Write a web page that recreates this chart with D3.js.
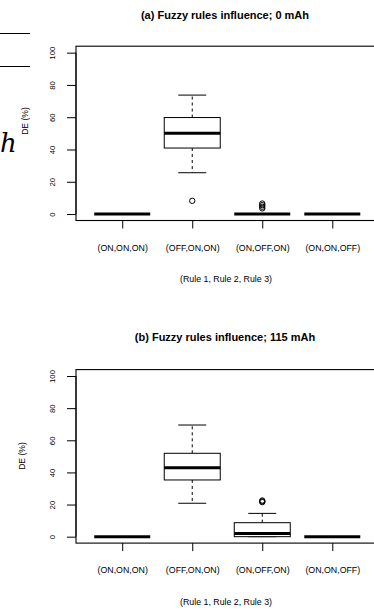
<!DOCTYPE html>
<html>
<head>
<meta charset="utf-8">
<script src="https://cdn.jsdelivr.net/npm/d3@7"></script>
<style>
  body { margin: 0; background: #fff; }
  svg { display: block; font-family: "Liberation Sans", Arial, sans-serif; }
</style>
</head>
<body>
<div id="viz"></div>
<script>
// categories on the x axis (Rule 1, Rule 2, Rule 3)
const categories = ["(ON,ON,ON)", "(OFF,ON,ON)", "(ON,OFF,ON)", "(ON,ON,OFF)"];
const yTicks = [0, 20, 40, 60, 80, 100];

// box stats per category: [lower whisker, Q1, median, Q3, upper whisker]
const statsA = [[0, 0, 0, 0, 0], [25.6, 40.9, 50, 59.8, 73.7], [0, 0, 0, 0, 0], [0, 0, 0, 0, 0]];
const outliersA = [[], [8.2], [3.5, 4.5, 5.5, 6.5], []];

const statsB = [[0, 0, 0, 0, 0], [20.8, 35.3, 42.9, 51.9, 69.5], [0, 0, 1.9, 8.7, 14.5], [0, 0, 0, 0, 0]];
const outliersB = [[], [], [21.5, 22, 22.5], []];

const W = 374, H = 610;

let svg = d3.select("#viz")
    .append("svg")
    .attr("width", W)
    .attr("height", H);

// leftover bits of the neighbouring figure (cropped)
svg.append("line").attr("x1", 0).attr("x2", 30).attr("y1", 33.5).attr("y2", 33.5)
    .attr("stroke", "#000").attr("stroke-width", 1);
svg.append("line").attr("x1", 0).attr("x2", 30).attr("y1", 66.5).attr("y2", 66.5)
    .attr("stroke", "#000").attr("stroke-width", 1);
svg.append("text").attr("x", 0).attr("y", 152)
    .style("font-family", "'DejaVu Serif', serif")
    .style("font-style", "italic")
    .style("font-size", "26px")
    .text("h");

function make_box(p) {
    let x = d3.scaleLinear().domain([0.34, 4.66]).range([76, 378.5]);
    let y = d3.scaleLinear().domain([-4, 104]).range([p.bottom, p.top]);
    let g = svg.append("g");

    // title
    g.append("text")
        .attr("x", 225).attr("y", p.titleY)
        .attr("text-anchor", "middle")
        .style("font-weight", "bold")
        .style("font-size", "11px")
        .text(p.title);

    // frame
    g.append("rect")
        .attr("x", x(0.34)).attr("y", p.top)
        .attr("width", x(4.66) - x(0.34)).attr("height", p.bottom - p.top)
        .attr("fill", "none").attr("stroke", "#000").attr("stroke-width", 1.1);

    // y axis
    let ya = g.append("g")
        .attr("transform", "translate(" + x(0.34) + ",0)")
        .call(d3.axisLeft(y).tickValues(yTicks).tickSize(9).tickSizeOuter(0));
    ya.select(".domain").attr("d", "M0," + y(0) + "V" + y(100));
    ya.selectAll("text").remove();
    ya.selectAll(".tick").append("text")
        .attr("transform", "translate(-24,0) rotate(-90)")
        .attr("text-anchor", "middle")
        .attr("dy", "0.35em")
        .attr("fill", "#000")
        .style("font-size", "7.8px")
        .style("font-family", "'Liberation Sans', Arial, sans-serif")
        .text(d => d);

    // x axis
    let xa = g.append("g")
        .attr("transform", "translate(0," + p.bottom + ")")
        .call(d3.axisBottom(x).tickValues([1, 2, 3, 4]).tickSize(8).tickSizeOuter(0));
    xa.select(".domain").remove();
    xa.selectAll("text").remove();
    xa.selectAll(".tick").append("text")
        .attr("y", 30)
        .attr("text-anchor", "middle")
        .attr("fill", "#000")
        .style("font-size", "8.8px")
        .style("font-family", "'Liberation Sans', Arial, sans-serif")
        .text((d, i) => categories[i]);

    // axis titles
    g.append("text")
        .attr("x", 226).attr("y", p.bottom + 61.5)
        .attr("text-anchor", "middle")
        .style("font-size", "8.8px")
        .text("(Rule 1, Rule 2, Rule 3)");
    g.append("text")
        .attr("transform", "translate(" + p.labX + "," + p.labY + ") rotate(-90)")
        .attr("text-anchor", "middle")
        .attr("dy", "0.35em")
        .style("font-size", "8.6px")
        .text("DE (%)");

    let bw = 56, sw = 28;
    let boxes = g.selectAll(".bx")
        .data(p.stats)
        .enter()
        .append("g")
        .attr("transform", (d, i) => "translate(" + x(i + 1) + ",0)");

    // whiskers
    boxes.append("line")
        .attr("y1", d => y(d[3])).attr("y2", d => y(d[4]))
        .attr("stroke", "#000").attr("stroke-dasharray", "3,3");
    boxes.append("line")
        .attr("y1", d => y(d[1])).attr("y2", d => y(d[0]))
        .attr("stroke", "#000").attr("stroke-dasharray", "3,3");
    // staples
    boxes.selectAll(".st")
        .data(d => [d[0], d[4]])
        .enter()
        .append("line")
        .attr("x1", -sw / 2).attr("x2", sw / 2)
        .attr("y1", v => y(v)).attr("y2", v => y(v))
        .attr("stroke", "#000");
    // box
    boxes.append("rect")
        .attr("x", -bw / 2).attr("width", bw)
        .attr("y", d => y(d[3])).attr("height", d => y(d[1]) - y(d[3]))
        .attr("fill", "#fff").attr("stroke", "#000");
    // median
    boxes.append("line")
        .attr("x1", -bw / 2).attr("x2", bw / 2)
        .attr("y1", d => y(d[2])).attr("y2", d => y(d[2]))
        .attr("stroke", "#000").attr("stroke-width", 3);

    // outliers
    boxes.each(function (d, i) {
        d3.select(this).selectAll(".out")
            .data(p.outliers[i])
            .enter()
            .append("circle")
            .attr("cy", v => y(v))
            .attr("r", 2.7)
            .attr("fill", "none")
            .attr("stroke", "#000")
            .attr("stroke-width", 1);
    });
}

make_box({title: "(a) Fuzzy rules influence; 0 mAh", titleY: 19, top: 46.2, bottom: 220.5,
    stats: statsA, outliers: outliersA, labX: 25, labY: 121});
make_box({title: "(b) Fuzzy rules influence; 115 mAh", titleY: 340.5, top: 369.6, bottom: 543.1,
    stats: statsB, outliers: outliersB, labX: 22, labY: 456});
</script>
</body>
</html>
